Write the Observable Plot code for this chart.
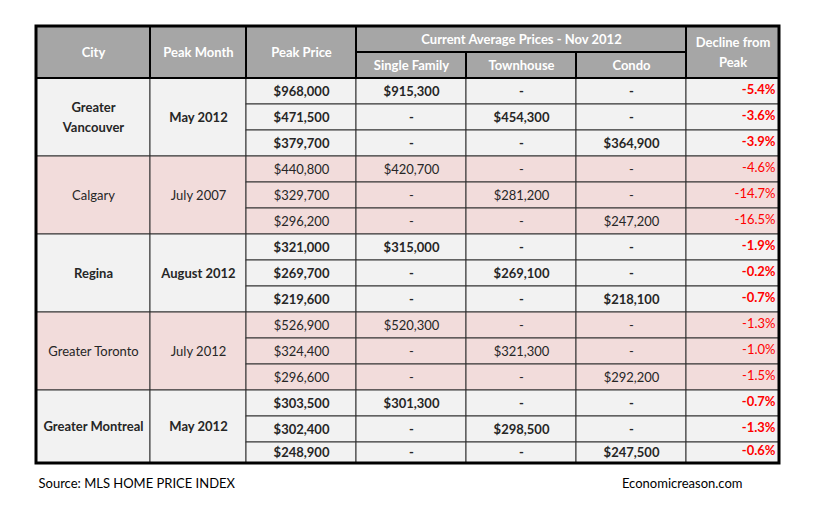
<!DOCTYPE html>
<html><head><meta charset="utf-8">
<script src="https://cdn.jsdelivr.net/npm/d3@7"></script>
<script src="https://cdn.jsdelivr.net/npm/@observablehq/plot@0.6"></script>
<style>body{margin:0;background:#fff;}</style>
</head><body><div id="chart"></div>
<script>
// ---- data ----
const cityLabels = ["Greater\nVancouver", "Calgary", "Regina", "Greater Toronto", "Greater Montreal"];
const peakMonths = ["May 2012", "July 2007", "August 2012", "July 2012", "May 2012"];
const peakPrices = [968000, 471500, 379700, 440800, 329700, 296200, 321000, 269700, 219600, 526900, 324400, 296600, 303500, 302400, 248900];
const singleFamily = [915300, 420700, 315000, 520300, 301300];
const townhouse = [454300, 281200, 269100, 321300, 298500];
const condo = [364900, 247200, 218100, 292200, 247500];
const declines = [-5.4, -3.6, -3.9, -4.6, -14.7, -16.5, -1.9, -0.2, -0.7, -1.3, -1.0, -1.5, -0.7, -1.3, -0.6];
const headerTop = ["City", "Peak Month", "Peak Price", "Current Average Prices - Nov 2012", "Decline from\nPeak"];
const propertyTypes = ["Single Family", "Townhouse", "Condo"];
const sourceNote = "Source: MLS HOME PRICE INDEX";
const siteNote = "Economicreason.com";

// ---- layout ----
const colWidths = [114, 96, 110, 110, 110, 110, 93];
const rowHeights = [26, 26, ...Array(14).fill(26), 21];
const colEdges = [0]; colWidths.forEach(w => colEdges.push(colEdges[colEdges.length - 1] + w));
const rowEdges = [0]; rowHeights.forEach(h => rowEdges.push(rowEdges[rowEdges.length - 1] + h));
const totalW = colEdges[colEdges.length - 1], totalH = rowEdges[rowEdges.length - 1];

const cell = (c0, c1, r0, r1, text, extra) => ({x1: colEdges[c0], x2: colEdges[c1], y1: rowEdges[r0], y2: rowEdges[r1], text, ...extra});
const money = v => "$" + d3.format(",")(v);

const header = [
  cell(0, 1, 0, 2, headerTop[0]),
  cell(1, 2, 0, 2, headerTop[1]),
  cell(2, 3, 0, 2, headerTop[2]),
  cell(3, 6, 0, 1, headerTop[3]),
  cell(6, 7, 0, 2, headerTop[4]),
  ...propertyTypes.map((t, i) => cell(3 + i, 4 + i, 1, 2, t))
];

const body = [];
const current = [singleFamily, townhouse, condo];
cityLabels.forEach((city, i) => {
  const fill = i % 2 ? "#f2dcdb" : "#f2f2f2";
  const bold = i % 2 === 0;
  const r = 2 + i * 3;
  body.push(cell(0, 1, r, r + 3, city, {fill, bold}));
  body.push(cell(1, 2, r, r + 3, peakMonths[i], {fill, bold}));
  for (let j = 0; j < 3; j++) {
    const k = i * 3 + j;
    body.push(cell(2, 3, r + j, r + j + 1, money(peakPrices[k]), {fill, bold}));
    for (let t = 0; t < 3; t++) {
      body.push(cell(3 + t, 4 + t, r + j, r + j + 1, t === j ? money(current[t][i]) : "-", {fill, bold}));
    }
    body.push(cell(6, 7, r + j, r + j + 1, declines[k].toFixed(1) + "%", {fill, bold, right: true}));
  }
});

const cx = d => (d.x1 + d.x2) / 2, cy = d => (d.y1 + d.y2) / 2;
const font = "Lato, 'Open Sans', sans-serif";
const dy = -2;

const chart = Plot.plot({
  width: 816, height: 513, margin: 0,
  x: {domain: [0, totalW], range: [36, 779], axis: null},
  y: {domain: [0, totalH], range: [26, 463], axis: null},
  style: {fontFamily: font, background: "#fff"},
  marks: [
    Plot.rect(body, {x1: "x1", x2: "x2", y1: "y1", y2: "y2", fill: "fill", stroke: "#333", strokeWidth: 1}),
    Plot.rect(header, {x1: "x1", x2: "x2", y1: "y1", y2: "y2", fill: "#a6a6a6", stroke: "#000", strokeWidth: 2}),
    Plot.rect([totalW], {x1: 0, x2: totalW, y1: 0, y2: totalH, fill: "none", stroke: "#000", strokeWidth: 3}),
    Plot.text(header, {x: cx, y: cy, dy, text: "text", fill: "#fff", fontWeight: "bold", fontSize: 13, lineHeight: 1.55}),
    Plot.text(body.filter(d => d.bold && !d.right), {x: cx, y: cy, dy, text: "text", fill: "#262626", fontWeight: "bold", fontSize: 13, lineHeight: 1.55}),
    Plot.text(body.filter(d => !d.bold && !d.right), {x: cx, y: cy, dy, text: "text", fill: "#262626", fontSize: 13, lineHeight: 1.55}),
    Plot.text(body.filter(d => d.bold && d.right), {x: "x2", y: cy, dx: -4, dy, text: "text", fill: "#ff0000", fontWeight: "bold", fontSize: 13, textAnchor: "end"}),
    Plot.text(body.filter(d => !d.bold && d.right), {x: "x2", y: cy, dx: -4, dy, text: "text", fill: "#ff0000", fontSize: 13, textAnchor: "end"}),
    Plot.text([sourceNote], {frameAnchor: "bottom-left", dx: 38, dy: -30, text: d => d, fill: "#000", fontSize: 13, textAnchor: "start", lineAnchor: "middle"}),
    Plot.text([siteNote], {frameAnchor: "bottom-right", dx: -74, dy: -30, text: d => d, fill: "#000", fontSize: 13, textAnchor: "end", lineAnchor: "middle"})
  ]
});
document.getElementById("chart").appendChild(chart);
</script>
</body></html>
